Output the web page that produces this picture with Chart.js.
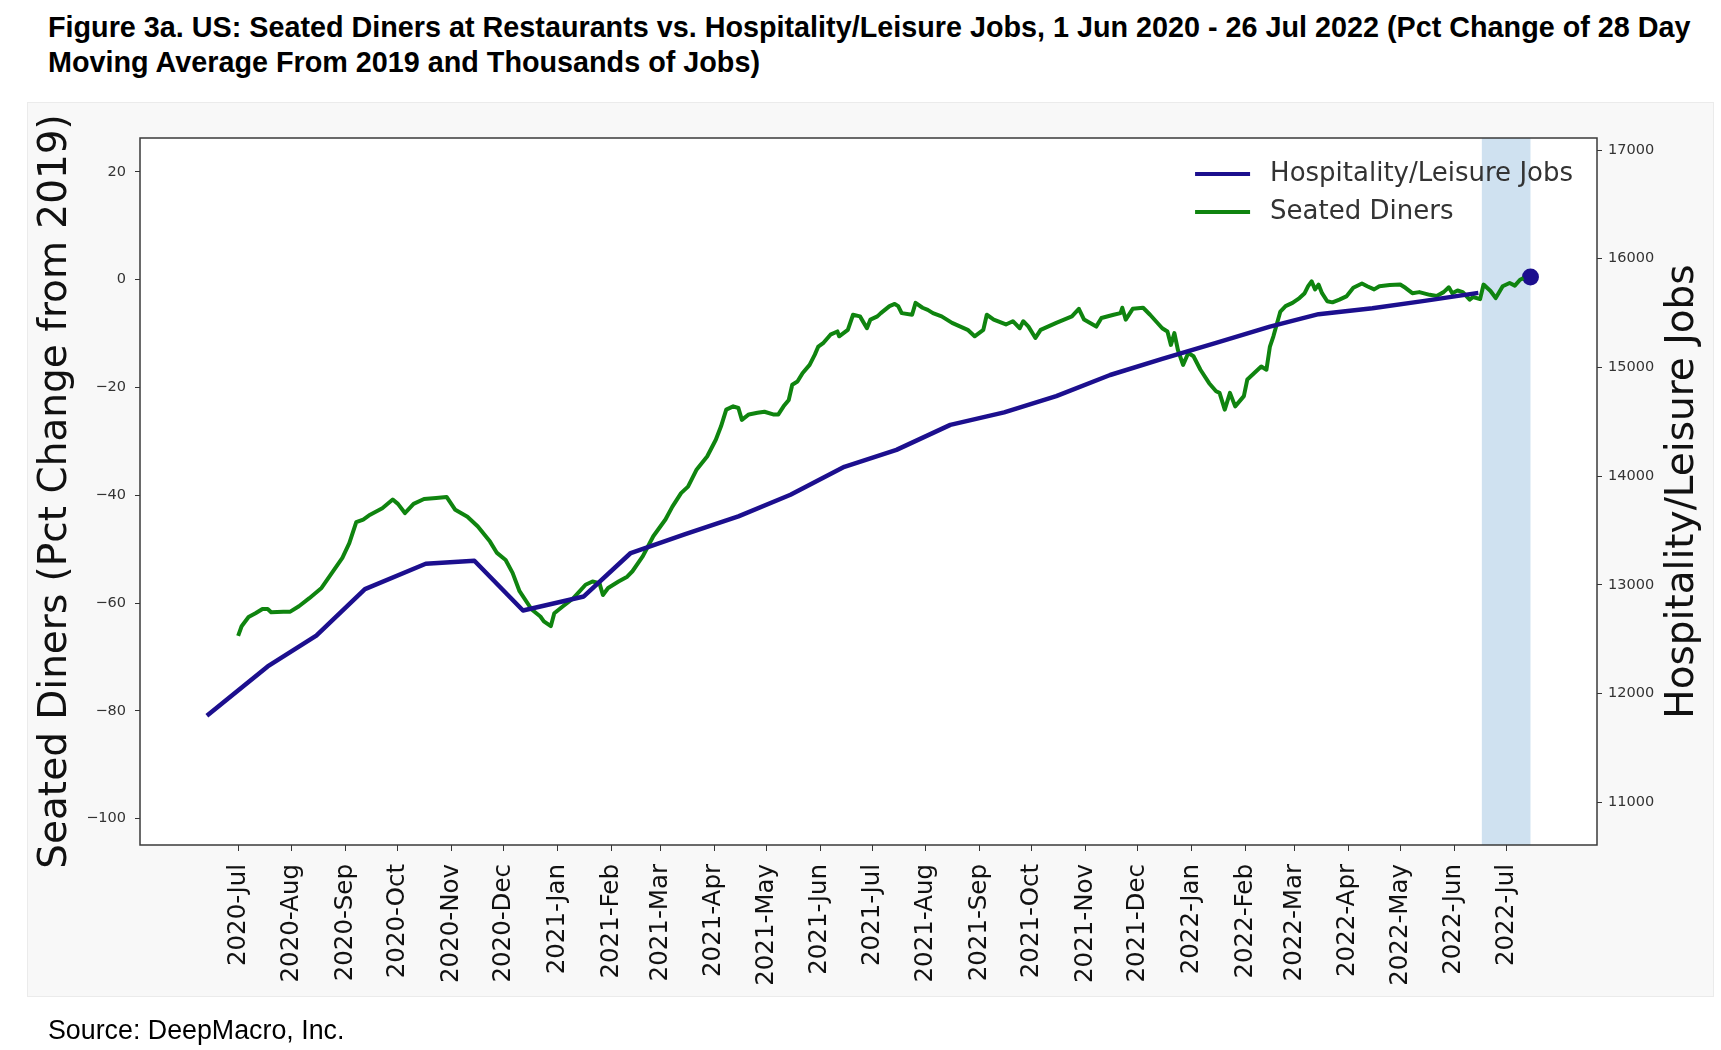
<!DOCTYPE html>
<html>
<head>
<meta charset="utf-8">
<script src="https://cdn.jsdelivr.net/npm/chart.js@4"></script>
<style>
  body { margin: 0; background: #fff; width: 1721px; height: 1050px; overflow: hidden; position: relative; font-family: "Liberation Sans", Arial, sans-serif; }
  #title { position: absolute; left: 48px; top: 10px; font-weight: bold; font-size: 28.75px; line-height: 35px; color: #000; white-space: nowrap; }
  #panel { position: absolute; left: 27px; top: 102px; width: 1687px; height: 895px; background: #f8f8f8; border: 1px solid #ebebeb; box-sizing: border-box; }
  #chart { position: absolute; left: 0; top: 0; }
  #source { position: absolute; left: 48px; top: 1014px; font-size: 26.8px; line-height: 32px; color: #000; }
</style>
</head>
<body>
<div id="title">Figure 3a. US: Seated Diners at Restaurants vs. Hospitality/Leisure Jobs, 1 Jun 2020 - 26 Jul 2022 (Pct Change of 28 Day<br>Moving Average From 2019 and Thousands of Jobs)</div>
<div id="panel"></div>
<canvas id="chart" width="1721" height="1050"></canvas>
<div id="source">Source: DeepMacro, Inc.</div>
<script>
// x values are days counted from 1 Jul 2020
const monthTickDays = [0, 31, 62, 92, 123, 153, 184, 215, 243, 274, 304, 335, 365, 396, 427, 457, 488, 518, 549, 580, 608, 639, 669, 700, 730];
const monthTickLabels = ['2020-Jul', '2020-Aug', '2020-Sep', '2020-Oct', '2020-Nov', '2020-Dec',
  '2021-Jan', '2021-Feb', '2021-Mar', '2021-Apr', '2021-May', '2021-Jun', '2021-Jul', '2021-Aug', '2021-Sep', '2021-Oct', '2021-Nov', '2021-Dec',
  '2022-Jan', '2022-Feb', '2022-Mar', '2022-Apr', '2022-May', '2022-Jun', '2022-Jul'];
const dinerTicks = [-100, -80, -60, -40, -20, 0, 20];
const jobsTicks = [11000, 12000, 13000, 14000, 15000, 16000, 17000];

const jobsLabel = 'Hospitality/Leisure Jobs';
const jobsDays = [-18, 17, 45, 73, 108, 136, 164, 199, 226, 257, 288, 318, 349, 379, 410, 441, 471, 502, 532, 563, 594, 622, 653, 683, 714];
const jobsValues = [11794, 12248, 12531, 12960, 13193, 13221, 12763, 12892, 13292, 13463, 13629, 13828, 14085, 14241, 14471, 14586, 14736, 14930, 15079, 15225, 15375, 15490, 15545, 15612, 15686];
const latestJobsDay = 744;
const latestJobsValue = 15832;

const dinersLabel = 'Seated Diners';
const dinerDays = [0, 2, 6, 10, 14, 17, 19, 26, 30, 35, 41, 48, 54, 60, 64, 68, 72, 76, 83, 89,
  92, 96, 101, 107, 114, 120, 125, 132, 138, 145, 149, 154, 158, 162, 169, 174, 176, 180, 182, 187,
  193, 200, 204, 208, 210, 213, 219, 224, 227, 233, 239, 246, 250, 255, 259, 264, 270, 275, 278, 281,
  285, 288, 290, 294, 299, 303, 308, 311, 314, 317, 319, 322, 325, 329, 332, 334, 337, 341, 345, 346,
  351, 354, 358, 362, 364, 368, 370, 375, 378, 380, 382, 388, 390, 394, 397, 400, 405, 411, 420, 424,
  429, 431, 435, 442, 446, 450, 452, 455, 459, 462, 471, 480, 484, 487, 494, 497, 504, 508, 509, 511,
  515, 521, 525, 532, 535, 537, 539, 541, 544, 547, 550, 554, 559, 563, 565, 568, 571, 574, 579, 581,
  585, 589, 592, 594, 596, 600, 603, 607, 611, 614, 616, 618, 620, 622, 624, 627, 630, 634, 638, 642,
  647, 650, 654, 657, 663, 669, 672, 676, 680, 686, 690, 694, 697, 699, 702, 705, 709, 711, 715, 717,
  721, 724, 728, 732, 735, 738, 740];
const dinerValues = [-66.1, -64.3, -62.6, -61.9, -61.1, -61.1, -61.7, -61.6, -61.6, -60.6, -59.1, -57.2, -54.4, -51.6, -48.9, -45.0, -44.5, -43.6, -42.4, -40.8,
  -41.6, -43.3, -41.6, -40.7, -40.5, -40.3, -42.7, -44.0, -45.8, -48.6, -50.7, -52.0, -54.4, -57.8, -61.2, -62.5, -63.4, -64.3, -61.9, -60.6,
  -59.1, -56.6, -56.0, -56.3, -58.5, -57.2, -56.0, -55.1, -54.1, -51.3, -47.6, -44.5, -42.1, -39.6, -38.4, -35.2, -32.8, -29.7, -27.2, -24.1,
  -23.5, -23.8, -26.0, -25.0, -24.7, -24.5, -25.0, -25.0, -23.5, -22.3, -19.5, -18.9, -17.3, -15.8, -13.9, -12.4, -11.7, -10.2, -9.6, -10.5,
  -9.3, -6.5, -6.8, -9.0, -7.4, -6.8, -6.2, -4.9, -4.5, -4.9, -6.2, -6.5, -4.3, -5.2, -5.6, -6.2, -6.8, -8.0, -9.3, -10.5,
  -9.3, -6.5, -7.4, -8.3, -7.7, -9.0, -7.7, -8.7, -10.8, -9.3, -8.0, -6.8, -5.4, -7.4, -8.7, -7.1, -6.5, -6.2, -5.2, -7.4,
  -5.4, -5.2, -6.5, -9.0, -9.6, -12.1, -9.9, -13.0, -15.8, -13.6, -14.2, -16.7, -19.2, -20.7, -21.0, -24.1, -21.0, -23.5, -21.6, -18.5,
  -17.3, -16.1, -16.7, -12.4, -10.5, -5.9, -4.9, -4.3, -3.4, -2.5, -1.2, -0.3, -1.8, -0.9, -2.5, -4.0, -4.2, -3.7, -3.1, -1.5,
  -0.7, -1.2, -1.8, -1.2, -1.0, -0.9, -1.5, -2.5, -2.3, -2.8, -3.0, -2.3, -1.4, -2.5, -2.0, -2.3, -3.7, -3.2, -3.6, -0.9,
  -2.1, -3.4, -1.2, -0.6, -1.1, 0.0, 0.3];

// shaded window (latest 28 days)
const shadeStart = 716;
const shadeEnd = 744;

const blue = '#1c0f8e';
const green = '#0f840f';
const tickColor = '#333';
const fontFamily = '"DejaVu Sans", sans-serif';

const toPoints = (xs, ys) => xs.map((x, i) => ({ x: x, y: ys[i] }));

const decorations = {
  id: 'decorations',
  beforeDraw(chart) {
    const a = chart.chartArea;
    const ctx = chart.ctx;
    ctx.save();
    ctx.fillStyle = '#fff';
    ctx.fillRect(a.left, a.top, a.right - a.left, a.bottom - a.top);
    ctx.restore();
  },
  beforeDatasetsDraw(chart) {
    const a = chart.chartArea;
    const x = chart.scales.x;
    const ctx = chart.ctx;
    const x0 = x.getPixelForValue(shadeStart);
    const x1 = x.getPixelForValue(shadeEnd);
    ctx.save();
    ctx.fillStyle = '#cfe1f0';
    ctx.fillRect(x0, a.top, x1 - x0, a.bottom - a.top);
    ctx.restore();
  },
  afterDraw(chart) {
    const a = chart.chartArea;
    const ctx = chart.ctx;
    ctx.save();
    // plot frame
    ctx.strokeStyle = '#3a3a3a';
    ctx.lineWidth = 1.5;
    ctx.strokeRect(a.left, a.top, a.right - a.left, a.bottom - a.top);

    // right axis title, reading bottom to top
    const r = chart.scales.yJobs;
    ctx.translate(r.right - 38.5, (a.top + a.bottom) / 2);
    ctx.rotate(-Math.PI / 2);
    ctx.fillStyle = '#111';
    ctx.font = '39px ' + fontFamily;
    ctx.textAlign = 'center';
    ctx.textBaseline = 'middle';
    ctx.fillText(jobsLabel, 0, 0);
    ctx.restore();

    // legend
    const items = [[jobsLabel, blue], [dinersLabel, green]];
    ctx.save();
    ctx.font = '26px ' + fontFamily;
    const w = Math.max(...items.map(it => ctx.measureText(it[0]).width));
    const textX = a.right - 24 - w;
    items.forEach((it, i) => {
      const y = a.top + 36 + i * 38;
      ctx.strokeStyle = it[1];
      ctx.lineWidth = 4;
      ctx.beginPath();
      ctx.moveTo(textX - 75, y);
      ctx.lineTo(textX - 20, y);
      ctx.stroke();
      ctx.fillStyle = '#333';
      ctx.textAlign = 'left';
      ctx.textBaseline = 'middle';
      ctx.fillText(it[0], textX, y);
    });
    ctx.restore();
  }
};

new Chart(document.getElementById('chart').getContext('2d'), {
  type: 'line',
  data: {
    datasets: [{
      label: jobsLabel,
      data: toPoints(jobsDays, jobsValues),
      yAxisID: 'yJobs',
      borderColor: blue,
      borderWidth: 4.5,
      pointRadius: 0,
      tension: 0
    }, {
      label: dinersLabel,
      data: toPoints(dinerDays, dinerValues),
      yAxisID: 'y',
      borderColor: green,
      borderWidth: 4,
      pointRadius: 0,
      tension: 0
    }, {
      label: 'latest',
      data: [{ x: latestJobsDay, y: latestJobsValue }],
      yAxisID: 'yJobs',
      showLine: false,
      pointRadius: 8.5,
      pointBackgroundColor: blue,
      pointBorderColor: blue,
      pointBorderWidth: 0
    }]
  },
  options: {
    responsive: false,
    animation: false,
    devicePixelRatio: 1,
    layout: { padding: { top: 138, left: 0, right: 0, bottom: 0 } },
    elements: { line: { borderJoinStyle: 'round' } },
    plugins: {
      legend: { display: false },
      tooltip: { enabled: false }
    },
    scales: {
      x: {
        type: 'linear',
        position: 'bottom',
        min: -56.5,
        max: 782.3,
        afterBuildTicks: s => { s.ticks = monthTickDays.map(v => ({ value: v })); },
        afterFit: s => { s.height = 205; },
        ticks: {
          autoSkip: false,
          minRotation: 90,
          maxRotation: 90,
          padding: 13,
          color: '#111',
          font: { family: fontFamily, size: 24.5 },
          callback: (v, i) => monthTickLabels[i]
        },
        grid: { drawOnChartArea: false, drawTicks: true, tickLength: 6, color: tickColor },
        border: { display: false }
      },
      y: {
        type: 'linear',
        position: 'left',
        min: -104.9,
        max: 26.3,
        afterBuildTicks: s => { s.ticks = dinerTicks.map(v => ({ value: v })); },
        afterFit: s => { s.width = 140; },
        ticks: {
          padding: 9,
          color: tickColor,
          font: { family: fontFamily, size: 14.5 },
          callback: v => (v < 0 ? '\u2212' + Math.abs(v) : String(v))
        },
        grid: { drawOnChartArea: false, drawTicks: true, tickLength: 5, color: tickColor },
        border: { display: false },
        title: {
          display: true,
          text: 'Seated Diners (Pct Change from 2019)',
          color: '#111',
          font: { family: fontFamily, size: 39 },
          padding: { top: 32, bottom: 0 }
        }
      },
      yJobs: {
        type: 'linear',
        position: 'right',
        min: 10605,
        max: 17111,
        afterBuildTicks: s => { s.ticks = jobsTicks.map(v => ({ value: v })); },
        afterFit: s => { s.width = 124; },
        ticks: {
          padding: 6,
          color: tickColor,
          font: { family: fontFamily, size: 14.5 },
          callback: v => String(v)
        },
        grid: { drawOnChartArea: false, drawTicks: true, tickLength: 5, color: tickColor },
        border: { display: false }
      }
    }
  },
  plugins: [decorations]
});
</script>
</body>
</html>
